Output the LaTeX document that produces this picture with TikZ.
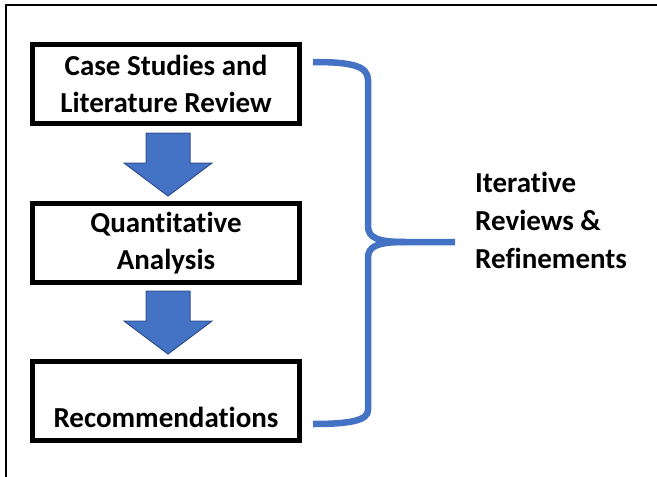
\documentclass[tikz,border=0pt]{standalone}
\usepackage{fontspec}
\setmainfont{Carlito}[Ligatures=CommonOff]
\definecolor{ablue}{HTML}{4472C4}
\definecolor{dblue}{HTML}{2F528F}
\tikzset{
  box/.style={draw=black, line width=5pt, minimum width=267pt, minimum height=79pt, inner sep=0pt, align=center,
    font=\fontsize{29}{37}\selectfont\bfseries},
  txt/.style={inner sep=0pt, font=\fontsize{29}{38}\selectfont\bfseries},
  blockarrow/.style={fill=ablue, draw=dblue, line width=1pt, line join=miter},
  brace/.style={draw=ablue, line width=6.5pt},
  frame/.style={draw=black, line width=2pt}
}
\begin{document}
\begin{tikzpicture}[x=1pt, y=-1pt]
\useasboundingbox (0,0) rectangle (657,477);
\draw[frame] (6,477) -- (6,5) -- (657,5);
\node[box] (b1) at (166,84) {Case Studies and\\Literature Review};
\node[box] (b2) at (166,243) {Quantitative\\Analysis};
\node[box] (b3) at (166,401) {};
\node[txt, anchor=base] (t3) at (166,427) {Recommendations};
% block arrows
\foreach \ya/\nm in {133/a1, 291/a2}{
  \draw[blockarrow] (146,\ya) -- (190,\ya) -- (190,\ya+30) -- (212,\ya+30) -- (168,\ya+63)
    -- (124,\ya+30) -- (146,\ya+30) -- cycle;
}
% brace
\coordinate (bt) at (313,62);
\coordinate (bm) at (455,242);
\coordinate (bb) at (313,424);
\draw[brace] (bt) .. controls (352,62) and (368,66) .. (368,80) -- (368,226)
  .. controls (368,238) and (378,242) .. (405,242) -- (bm);
\draw[brace] (405,242) .. controls (378,242) and (368,246) .. (368,258) -- (368,410)
  .. controls (368,420) and (352,424) .. (bb);
\node[txt, anchor=west, align=left] (lab) at (475,220) {Iterative\\Reviews \&\\Refinements};
\end{tikzpicture}
\end{document}
